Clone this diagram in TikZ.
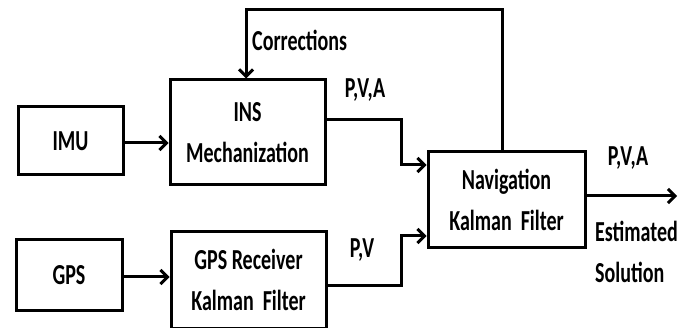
\documentclass[tikz,border=0pt]{standalone}
\usepackage{fontspec}
\newfontfamily\diagfont{Carlito}[FakeStretch=0.69]
\usepackage{tikz}
\usetikzlibrary{calc,arrows.meta}
\tikzset{
  blockbox/.style={draw,line width=3pt,align=center,inner sep=0pt},
  flowline/.style={line width=3pt,-{Straight Barb[length=7pt,width=14pt,line width=3pt]}},
  sigtext/.style={inner sep=0pt,align=left}
}

\begin{document}
\begin{tikzpicture}[x=1pt,y=-1pt,font=\diagfont\bfseries\fontsize{29}{41}\selectfont]
    \useasboundingbox (0,0) rectangle (695,328);
    \node[blockbox,minimum width=105pt,minimum height=68pt] (imu) at (70.5,141) {IMU};
    \node[blockbox,minimum width=155pt,minimum height=105pt] (ins) at (247.5,132.5) {INS\\Mechanization};
    \node[blockbox,minimum width=157pt,minimum height=96pt] (nav) at (506.5,200) {Navigation\\Kalman~ Filter};
    \node[blockbox,minimum width=106pt,minimum height=70pt] (gps) at (69,275) {GPS};
    \node[blockbox,minimum width=155pt,minimum height=96pt] (gpsrx) at (248.5,280) {GPS Receiver\\Kalman~ Filter};
    \node[sigtext,anchor=west] (corr) at (252,40) {Corrections};
    \node[sigtext] (pvaone) at (365,90) {P,V,A};
    \node[sigtext] (pvatwo) at (628,158) {P,V,A};
    \node[sigtext] (pv) at (362,250) {P,V};
    \node[sigtext,anchor=north west] (estsol) at (595,221) {Estimated\\Solution};
    \coordinate (insbend) at (401,120);
    \coordinate (insin) at (401,165);
    \coordinate (rxbend) at (401,285);
    \coordinate (rxin) at (401,236);
    \coordinate (fbright) at (502,10);
    \coordinate (fbleft) at (246,10);
    \coordinate (estout) at (677,196);
    \draw[flowline] (imu.east |- 0,143) -- (ins.west |- 0,143);
    \draw[flowline] (gps.east |- 0,277) -- (gpsrx.west |- 0,277);
    \draw[flowline] (ins.east |- insbend) -- (insbend) -- (insin) -- (insin -| nav.west);
    \draw[flowline] (gpsrx.east |- rxbend) -- (rxbend) -- (rxin) -- (rxin -| nav.west);
    \draw[flowline] (nav.east |- estout) -- (estout);
    \draw[flowline] (nav.north -| fbright) -- (fbright) -- (fbleft) -- (fbleft |- ins.north);
\end{tikzpicture}
\end{document}
